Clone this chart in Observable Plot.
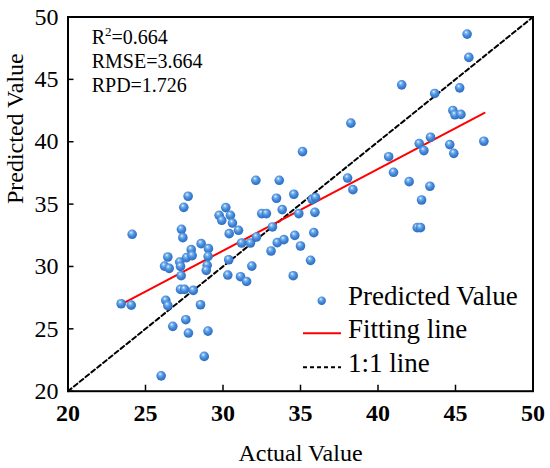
<!DOCTYPE html>
<html><head><meta charset="utf-8">
<script src="https://cdn.jsdelivr.net/npm/d3@7"></script>
<script src="https://cdn.jsdelivr.net/npm/@observablehq/plot@0.6"></script>
<style>
body{margin:0;background:#fff;}
#chart{width:550px;height:468px;}
</style></head><body><div id="chart"></div>
<script>
// Data
const actual = [24.14,23.43,24.08,26.01,26.76,26.31,26.44,26.23,26.53,26.44,
  27.32,27.41,27.47,27.75,27.21,27.26,27.30,27.26,27.52,28.08,
  27.60,27.77,27.65,27.95,28.01,28.59,28.55,28.79,29.03,29.06,
  29.04,28.98,28.92,29.75,29.92,30.18,30.48,30.61,30.40,31.00,
  30.37,30.31,31.13,31.52,31.86,31.20,31.77,32.16,32.12,33.63,
  33.10,33.50,33.93,33.19,33.45,33.82,34.57,34.89,32.50,32.80,
  34.63,35.00,34.53,35.65,35.13,35.76,35.97,35.93,35.86,45.75,
  45.86,41.53,43.66,45.27,44.83,44.96,45.35,38.25,46.83,43.39,
  42.66,42.96,44.63,44.89,40.69,41.00,42.01,43.35,42.81,42.53,
  42.74,38.04,38.38];
const predicted = [32.58,27.01,26.90,21.23,25.20,27.28,26.86,30.03,29.85,30.76,
  32.98,32.31,34.74,35.63,30.35,30.00,29.26,28.16,28.16,28.08,
  25.73,24.66,30.71,31.35,30.87,31.83,26.93,22.79,24.82,31.43,
  30.81,30.09,29.69,34.10,33.70,34.72,34.10,33.48,32.63,32.90,
  30.54,29.31,29.18,28.80,30.03,31.88,31.88,32.36,36.91,36.91,
  31.24,31.91,32.15,33.17,35.47,34.56,35.79,34.24,34.24,34.24,
  32.49,31.64,29.26,30.49,39.21,35.36,35.52,34.34,32.71,48.63,
  46.76,44.56,43.87,44.32,42.51,42.16,42.19,41.49,40.04,40.36,
  39.85,39.29,39.77,39.07,38.80,37.55,36.80,36.43,35.33,33.11,
  33.11,37.09,36.16];
const fitX = [23.43, 46.87];
const fitY = [26.96, 42.31];
const oneToOne = [20, 50];
const tickValues = [20, 25, 30, 35, 40, 45, 50];
const statNames = ["R", "RMSE", "RPD"];
const statValues = ["0.664", "3.664", "1.726"];
const legendLabels = ["Predicted Value", "Fitting line", "1:1 line"];
const xTitle = "Actual Value";
const yTitle = "Predicted Value";

const points = actual.map((a, i) => ({a, p: predicted[i]}));
const fit = fitX.map((x, i) => ({x, y: fitY[i]}));
const diag = oneToOne.map(v => ({x: v, y: v}));

const FONT = "'Liberation Serif', 'Times New Roman', serif";

const plot = Plot.plot({
  width: 550, height: 468,
  marginLeft: 67.5, marginRight: 17.5, marginTop: 16.5, marginBottom: 77.3,
  style: {fontFamily: FONT, background: "#fff", color: "#000", overflow: "visible"},
  x: {domain: [20, 50]},
  y: {domain: [20, 50]},
  marks: [
    Plot.line(diag, {x: "x", y: "y", stroke: "#000", strokeWidth: 2, strokeDasharray: "4.5,3"}),
    Plot.line(fit, {x: "x", y: "y", stroke: "#ff0000", strokeWidth: 2}),
    Plot.dot(points, {x: "a", y: "p", r: 4.8, fill: "url(#ball)", stroke: "none"}),
    Plot.axisX({ticks: tickValues, tickSize: -6, tickPadding: 19, fontSize: 24, fontWeight: "bold", label: null, strokeWidth: 1.5}),
    Plot.axisY({ticks: tickValues, tickSize: -6, tickPadding: 15.5, fontSize: 24, label: null, strokeWidth: 1.5}),
    Plot.text([xTitle], {frameAnchor: "bottom", dy: 70, fontSize: 24, fill: "#000"}),
    Plot.text([yTitle], {frameAnchor: "left", dx: -52.5, rotate: -90, fontSize: 24, fill: "#000"}),
    Plot.frame({stroke: "#000", strokeWidth: 2})
  ]
});
document.getElementById("chart").appendChild(plot);

const svg = d3.select(plot);
svg.selectAll("text").attr("font-family", FONT);
const defs = svg.insert("defs", ":first-child");
const g = defs.append("radialGradient").attr("id", "ball")
  .attr("cx", "45%").attr("cy", "40%").attr("r", "60%").attr("fx", "38%").attr("fy", "30%");
g.append("stop").attr("offset", "0%").attr("stop-color", "#eef6ff");
g.append("stop").attr("offset", "25%").attr("stop-color", "#7db4ee");
g.append("stop").attr("offset", "60%").attr("stop-color", "#4288d9");
g.append("stop").attr("offset", "100%").attr("stop-color", "#2c6bc0");

// statistics block
const st = svg.append("g").attr("font-family", FONT).attr("font-size", 20)
  .attr("fill", "#000").attr("text-anchor", "start");
statNames.forEach((n, i) => {
  const t = st.append("text").attr("x", 91.7).attr("y", 44 + i * 23.8);
  if (i === 0) {
    t.append("tspan").text(n);
    t.append("tspan").attr("font-size", 13).attr("dy", -8).text("2");
    t.append("tspan").attr("dy", 8).text("=" + statValues[i]);
  } else {
    t.text(n + "=" + statValues[i]);
  }
});

// legend
const lg = svg.append("g").attr("font-family", FONT).attr("font-size", 27)
  .attr("fill", "#000").attr("text-anchor", "start");
lg.append("circle").attr("cx", 321.7).attr("cy", 300.7).attr("r", 4.2).attr("fill", "url(#ball)");
lg.append("line").attr("x1", 303).attr("x2", 341).attr("y1", 333.3).attr("y2", 333.3).attr("stroke", "#ff0000").attr("stroke-width", 2);
lg.append("line").attr("x1", 303).attr("x2", 341).attr("y1", 367.3).attr("y2", 367.3).attr("stroke", "#000").attr("stroke-width", 2).attr("stroke-dasharray", "4,3");
legendLabels.forEach((l, i) => {
  lg.append("text").attr("x", 348).attr("y", 305 + i * 33.3).text(l);
});
</script></body></html>
